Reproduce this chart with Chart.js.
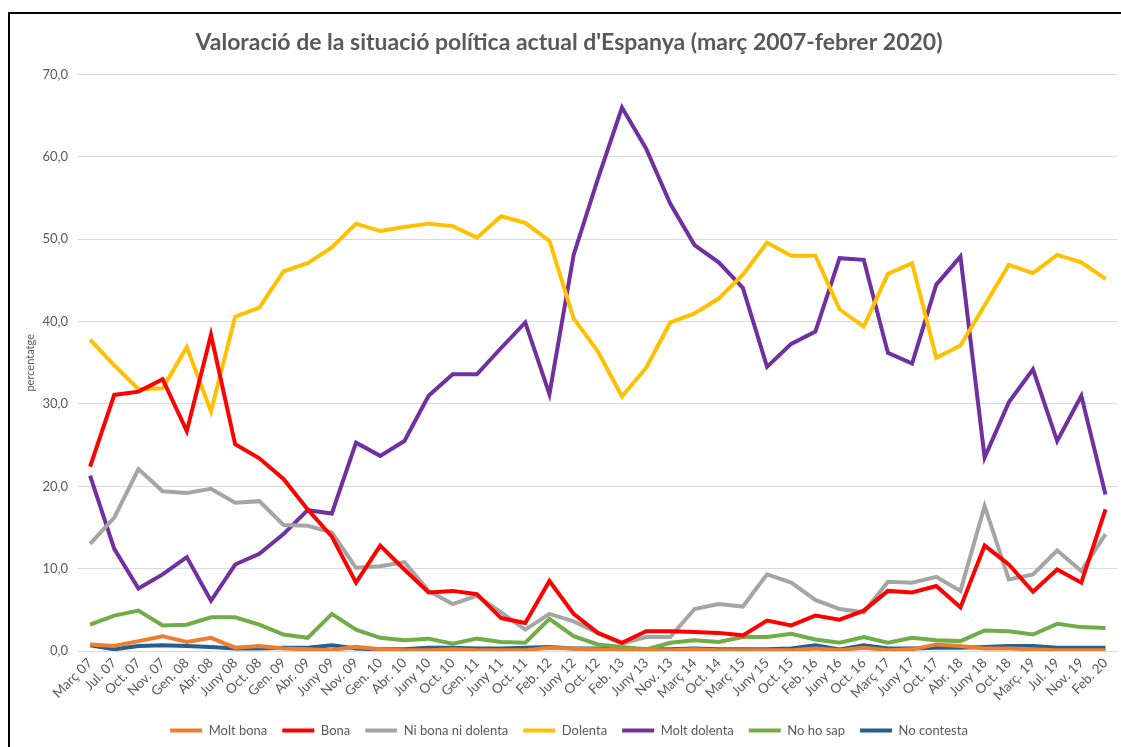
<!DOCTYPE html>
<html>
<head>
<meta charset="utf-8">
<script src="https://cdn.jsdelivr.net/npm/chart.js@4"></script>
<style>
  html, body { margin: 0; padding: 0; background: #fff; overflow: hidden; }
  #frame { position: absolute; left: 8px; top: 12px; width: 1130px; height: 760px; border-left: 2px solid #000; border-top: 2px solid #000; }
  #wrap { position: absolute; left: 0; top: 0; width: 1121px; height: 747px; }
</style>
</head>
<body>
<div id="frame"></div>
<div id="wrap"><canvas id="chart"></canvas></div>
<script>
// Survey waves (x axis)
const labels = ['Març 07', 'Jul. 07', 'Oct. 07', 'Nov. 07', 'Gen. 08', 'Abr. 08', 'Juny 08', 'Oct. 08',
  'Gen. 09', 'Abr. 09', 'Juny 09', 'Nov. 09', 'Gen. 10', 'Abr. 10', 'Juny 10', 'Oct. 10', 'Gen. 11',
  'Juny 11', 'Oct. 11', 'Feb. 12', 'Juny 12', 'Oct. 12', 'Feb. 13', 'Juny 13', 'Nov. 13', 'Març 14',
  'Oct. 14', 'Març 15', 'Juny 15', 'Oct. 15', 'Feb. 16', 'Juny 16', 'Oct. 16', 'Març 17', 'Juny 17',
  'Oct. 17', 'Abr. 18', 'Juny 18', 'Oct. 18', 'Març. 19', 'Jul. 19', 'Nov. 19', 'Feb. 20'];

// percentages per answer
const moltBona = [0.8, 0.6, 1.2, 1.8, 1.1, 1.6, 0.4, 0.6, 0.3, 0.2, 0.1, 0.5, 0.2, 0.1, 0.1, 0.2, 0.1,
  0.1, 0.1, 0.4, 0.3, 0.2, 0.1, 0.1, 0.1, 0.2, 0.1, 0.1, 0.1, 0.1, 0.3, 0.1, 0.4, 0.1, 0.2,
  0.8, 0.6, 0.3, 0.3, 0.2, 0.1, 0.1, 0.1];
const bona = [22.4, 31.1, 31.5, 33.0, 26.7, 38.4, 25.1, 23.4, 20.9, 17.2, 13.9, 8.3, 12.8, 9.9, 7.1, 7.3, 6.9,
  4.0, 3.4, 8.5, 4.5, 2.2, 1.0, 2.4, 2.4, 2.3, 2.2, 1.9, 3.7, 3.1, 4.3, 3.8, 4.9, 7.3, 7.1,
  7.9, 5.3, 12.8, 10.5, 7.2, 9.9, 8.3, 17.2];
const niBonaNiDolenta = [13.0, 16.2, 22.1, 19.4, 19.2, 19.7, 18.0, 18.2, 15.3, 15.2, 14.4, 10.1, 10.3, 10.8, 7.3, 5.7, 6.7,
  4.7, 2.6, 4.5, 3.6, 2.2, 0.9, 1.7, 1.7, 5.1, 5.7, 5.4, 9.3, 8.3, 6.2, 5.1, 4.7, 8.4, 8.3,
  9.0, 7.3, 17.6, 8.7, 9.3, 12.2, 9.7, 14.2];
const dolenta = [37.8, 34.7, 31.8, 31.9, 36.9, 29.1, 40.6, 41.7, 46.1, 47.1, 49.0, 51.9, 51.0, 51.5, 51.9, 51.6, 50.2,
  52.8, 52.0, 49.8, 40.4, 36.4, 30.9, 34.4, 39.9, 41.0, 42.8, 45.7, 49.6, 48.0, 48.0, 41.5, 39.4, 45.8, 47.1,
  35.6, 37.1, 42.0, 46.9, 45.9, 48.1, 47.2, 45.2];
const moltDolenta = [21.3, 12.4, 7.6, 9.3, 11.4, 6.1, 10.5, 11.8, 14.2, 17.1, 16.7, 25.3, 23.7, 25.5, 31.0, 33.6, 33.6,
  36.8, 39.9, 31.2, 48.1, 57.3, 66.0, 61.0, 54.3, 49.3, 47.2, 44.1, 34.5, 37.3, 38.8, 47.7, 47.5, 36.2, 34.9,
  44.5, 47.9, 23.5, 30.2, 34.2, 25.5, 31.0, 19.0];
const noHoSap = [3.2, 4.3, 4.9, 3.1, 3.2, 4.1, 4.1, 3.2, 2.0, 1.6, 4.5, 2.6, 1.6, 1.3, 1.5, 0.9, 1.5,
  1.1, 1.0, 3.9, 1.8, 0.8, 0.5, 0.2, 1.0, 1.3, 1.1, 1.7, 1.7, 2.1, 1.4, 1.0, 1.7, 1.0, 1.6,
  1.3, 1.2, 2.5, 2.4, 2.0, 3.3, 2.9, 2.8];
const noContesta = [0.7, 0.2, 0.6, 0.7, 0.6, 0.5, 0.3, 0.3, 0.4, 0.4, 0.7, 0.3, 0.2, 0.2, 0.4, 0.4, 0.3,
  0.3, 0.4, 0.5, 0.3, 0.3, 0.2, 0.2, 0.2, 0.3, 0.2, 0.2, 0.2, 0.3, 0.7, 0.2, 0.7, 0.3, 0.3,
  0.4, 0.4, 0.5, 0.6, 0.6, 0.4, 0.4, 0.4];

const yTicks = [0, 10, 20, 30, 40, 50, 60, 70];

function serie(label, data, color) {
  return {
    label: label,
    data: data,
    borderColor: color,
    backgroundColor: color,
    borderWidth: 4,
    pointRadius: 0,
    tension: 0,
    fill: false
  };
}

const textGrey = '#595959';

new Chart(document.getElementById('chart').getContext('2d'), {
  type: 'line',
  data: {
    labels: labels,
    datasets: [
      serie('Molt bona', moltBona, '#ED7D31'),
      serie('Bona', bona, '#FF0000'),
      serie('Ni bona ni dolenta', niBonaNiDolenta, '#A5A5A5'),
      serie('Dolenta', dolenta, '#FFC000'),
      serie('Molt dolenta', moltDolenta, '#7030A0'),
      serie('No ho sap', noHoSap, '#70AD47'),
      serie('No contesta', noContesta, '#255E91')
    ]
  },
  options: {
    responsive: true,
    maintainAspectRatio: false,
    animation: false,
    layout: { padding: { left: 20, right: 3, top: 13, bottom: 0 } },
    plugins: {
      tooltip: { enabled: false },
      title: {
        display: true,
        text: "Valoració de la situació política actual d'Espanya (març 2007-febrer 2020)",
        color: textGrey,
        font: { family: 'Lato', size: 23, weight: 'bold' },
        padding: { top: 16, bottom: 18 }
      },
      legend: {
        position: 'bottom',
        labels: {
          color: textGrey,
          font: { family: 'Lato', size: 13 },
          boxWidth: 32,
          boxHeight: 4,
          padding: 15,
          generateLabels: function(chart) {
            return Chart.defaults.plugins.legend.labels.generateLabels(chart).map(function(l) {
              l.lineWidth = 0;
              return l;
            });
          }
        }
      }
    },
    scales: {
      x: {
        offset: true,
        grid: { display: false, drawTicks: false },
        border: { display: true, color: '#D9D9D9', width: 1 },
        ticks: {
          color: textGrey,
          font: { family: 'Lato', size: 13.5 },
          autoSkip: false,
          minRotation: 45,
          maxRotation: 45,
          padding: 4
        },
        afterFit: function(scale) { scale.height = 58; }
      },
      y: {
        min: 0,
        max: 70,
        afterBuildTicks: function(scale) {
          scale.ticks = yTicks.map(function(v) { return { value: v }; });
        },
        grid: { color: '#D9D9D9', drawTicks: false },
        border: { display: false },
        ticks: {
          color: textGrey,
          font: { family: 'Lato', size: 13 },
          padding: 10,
          callback: function(v) { return v.toFixed(1).replace('.', ','); }
        },
        title: {
          display: true,
          text: 'percentatge',
          color: textGrey,
          font: { family: 'Lato', size: 11 },
          padding: { top: 4, bottom: 0 }
        },
        afterFit: function(scale) { scale.width = 58; }
      }
    }
  }
});
</script>
</body>
</html>
